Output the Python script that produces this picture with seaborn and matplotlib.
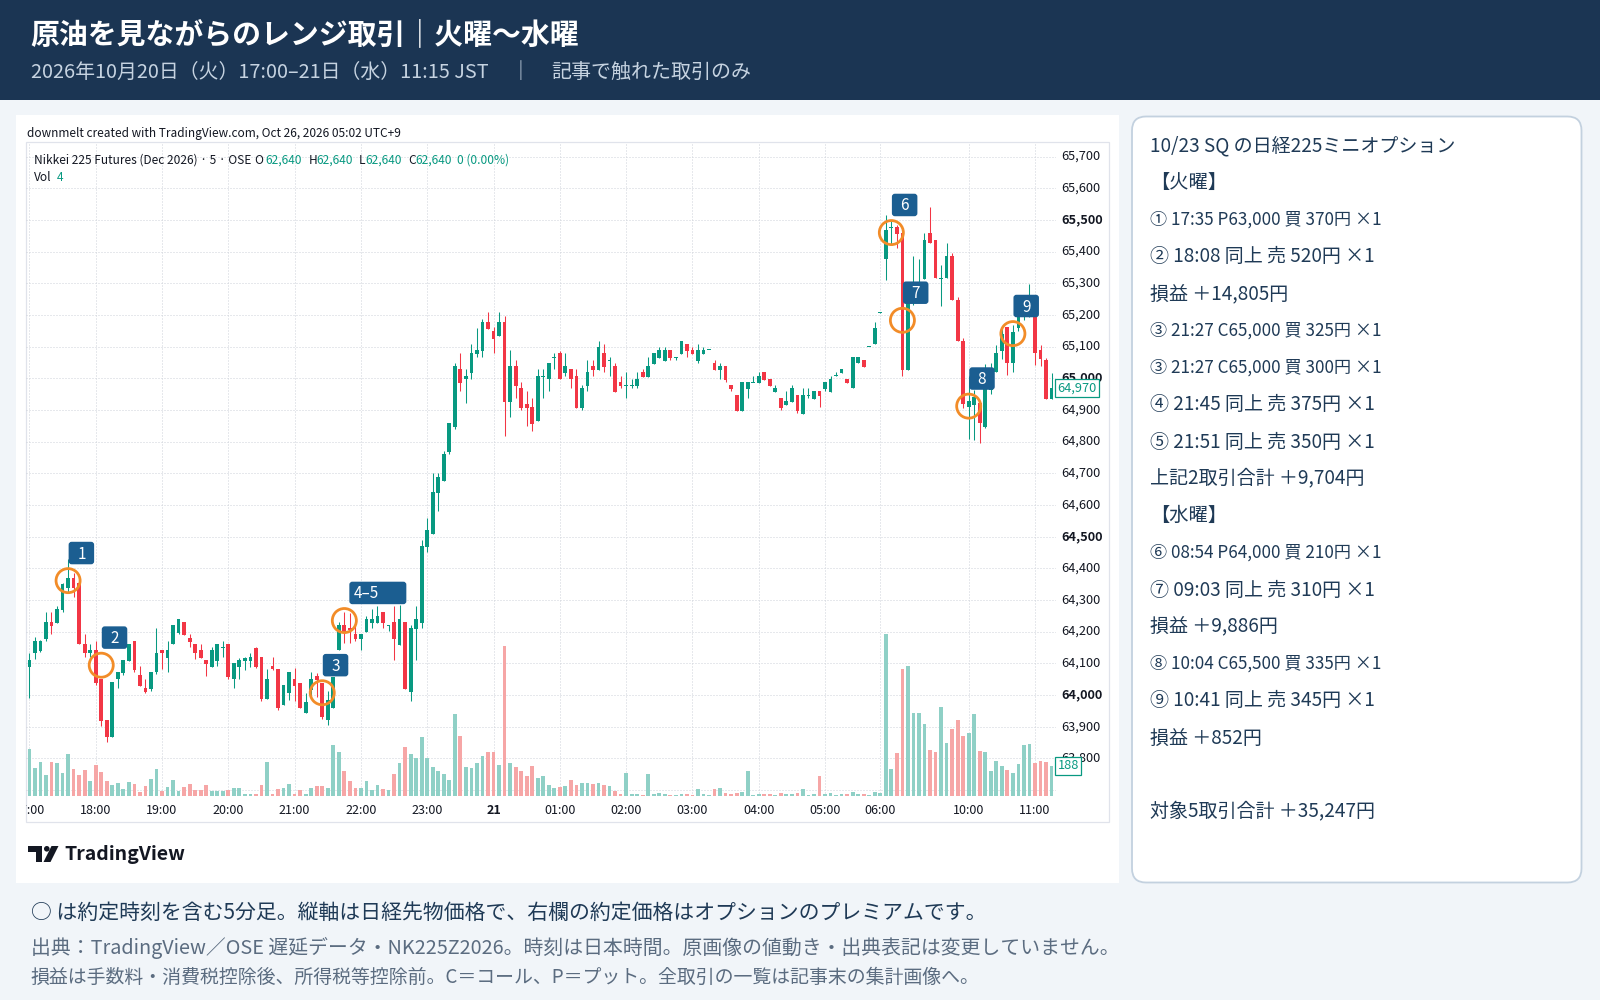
import numpy as np
import pandas as pd
import matplotlib
matplotlib.use("Agg")
import matplotlib.pyplot as plt
import matplotlib.transforms as mtransforms
from matplotlib.patches import Rectangle, FancyBboxPatch, Polygon, Circle
import seaborn as sns

# ---------------- data (5-minute bars, 17:00 Tue -> 11:15 Wed) ----------------
opens = [
    64089, 64131, 64140, 64177, 64230, 64228, 64268, 64339, 64368, 64352,
    64160, 64131, 64142, 64049, 63921, 63868, 64049, 64068, 64108, 64170,
    64062, 64023, 64020, 64072, 64142, 64117, 64160, 64197, 64229, 64181,
    64161, 64142, 64110, 64089, 64108, 64150, 64161, 64049, 64089, 64108,
    64108, 64149, 64121, 63986, 64091, 64081, 63968, 64007, 64049, 64039,
    63942, 64016, 64060, 64039, 63921, 63958, 64142, 64221, 64210, 64191,
    64177, 64200, 64228, 64228, 64263, 64218, 64231, 64158, 64230, 64010,
    64209, 64228, 64468, 64508, 64639, 64677, 64767, 64847, 65029, 64997,
    65018, 65077, 65087, 65178, 65148, 65135, 65178, 64925, 65039, 64969,
    64919, 64908, 64866, 65004, 64997, 65066, 65079, 65018, 65028, 65007,
    64906, 64976, 65039, 65026, 65081, 65057, 65039, 64988, 64977, 64978,
    64977, 65020, 65005, 65046, 65065, 65056, 65089, 65066, 65078, 65108,
    65089, 65056, 65078, 65089, 65049, 65026, 65039, 64979, 64947, 64898,
    64967, 64987, 64986, 65020, 64997, 64957, 64938, 64917, 64925, 64947,
    64887, 64946, 64936, 64960, 64967, 64957, 65007, 65017, 64997, 64970,
    65047, 65058, 65099, 65107, 65207, 65376, 65475, 65477, 65458, 65026,
    65237, 65280, 65312, 65460, 65437, 65315, 65316, 65386, 65247, 65118,
    64908, 64915, 64921, 64847, 64963, 65021, 65086, 65161, 65047, 65158,
    65194, 65215, 65218, 65089, 65058, 64934,
]
highs = [
    64131, 64182, 64175, 64262, 64262, 64281, 64352, 64428, 64384, 64352,
    64192, 64161, 64170, 64049, 63921, 64040, 64072, 64110, 64161, 64170,
    64091, 64051, 64072, 64212, 64142, 64171, 64221, 64240, 64229, 64193,
    64161, 64161, 64110, 64152, 64161, 64169, 64161, 64100, 64116, 64121,
    64131, 64152, 64121, 64081, 64121, 64081, 64031, 64071, 64084, 64039,
    64005, 64072, 64070, 64039, 64013, 64058, 64231, 64263, 64258, 64226,
    64191, 64249, 64270, 64281, 64263, 64220, 64281, 64284, 64230, 64221,
    64281, 64489, 64558, 64702, 64702, 64769, 64858, 65049, 65081, 65028,
    65108, 65158, 65188, 65209, 65161, 65209, 65197, 65089, 65058, 64988,
    64960, 64937, 65028, 65028, 65047, 65079, 65087, 65079, 65028, 65028,
    64980, 65058, 65058, 65117, 65108, 65068, 65049, 65007, 65021, 64997,
    65020, 65029, 65067, 65080, 65098, 65098, 65089, 65066, 65118, 65108,
    65098, 65108, 65098, 65090, 65058, 65049, 65039, 64979, 64947, 64988,
    64988, 65007, 65020, 65020, 64997, 64979, 64938, 64961, 64979, 64947,
    64969, 64969, 64960, 64960, 64988, 65007, 65020, 65029, 64997, 65067,
    65067, 65058, 65100, 65177, 65209, 65516, 65495, 65484, 65458, 65250,
    65386, 65376, 65460, 65540, 65437, 65358, 65428, 65397, 65256, 65126,
    65007, 64963, 64921, 65045, 65047, 65105, 65160, 65161, 65168, 65210,
    65255, 65297, 65218, 65106, 65065, 65018,
]
lows = [
    63992, 64112, 64135, 64171, 64194, 64226, 64263, 64321, 64310, 64160,
    64121, 64119, 64031, 63903, 63852, 63868, 64023, 64062, 64108, 64072,
    64029, 64005, 64013, 64066, 64082, 64073, 64160, 64192, 64189, 64152,
    64112, 64118, 64061, 64089, 64091, 64121, 64050, 64023, 64052, 64079,
    64089, 64084, 63981, 63986, 64079, 63952, 63968, 63983, 63980, 63960,
    63942, 63994, 63994, 63924, 63905, 63958, 64142, 64163, 64163, 64171,
    64142, 64200, 64213, 64228, 64212, 64203, 64110, 64158, 64020, 63982,
    64110, 64212, 64452, 64508, 64582, 64677, 64761, 64841, 64961, 64921,
    64999, 65068, 65068, 65157, 65081, 65135, 64819, 64879, 64939, 64900,
    64849, 64832, 64866, 64939, 64961, 65030, 64997, 65007, 64970, 64906,
    64900, 64961, 65007, 65026, 65021, 65007, 64958, 64969, 64939, 64969,
    64969, 65005, 65005, 65046, 65065, 65056, 65058, 65058, 65078, 65068,
    65078, 65049, 65078, 65089, 65026, 64997, 64988, 64960, 64898, 64898,
    64938, 64987, 64986, 64995, 64976, 64957, 64900, 64917, 64925, 64889,
    64887, 64938, 64936, 64908, 64960, 64957, 65007, 65017, 64985, 64970,
    65047, 65037, 65099, 65107, 65207, 65310, 65421, 65410, 65008, 65026,
    65230, 65279, 65312, 65426, 65316, 65229, 65316, 65247, 65118, 64905,
    64808, 64805, 64795, 64842, 64950, 65021, 65060, 65009, 65021, 65150,
    65185, 65195, 65042, 65039, 64934, 64934,
]
closes = [
    64110, 64171, 64171, 64230, 64218, 64272, 64350, 64368, 64339, 64160,
    64131, 64142, 64039, 63918, 63868, 64040, 64072, 64110, 64161, 64079,
    64029, 64009, 64072, 64132, 64131, 64142, 64221, 64240, 64189, 64168,
    64131, 64118, 64098, 64142, 64161, 64151, 64058, 64100, 64110, 64118,
    64121, 64089, 63986, 64049, 64081, 63960, 64031, 64071, 64029, 63960,
    63979, 64049, 64047, 63931, 63984, 64058, 64221, 64200, 64205, 64177,
    64191, 64239, 64240, 64249, 64228, 64218, 64177, 64239, 64020, 64212,
    64239, 64470, 64521, 64641, 64687, 64761, 64858, 65039, 64986, 65007,
    65081, 65089, 65178, 65157, 65125, 65178, 64925, 65039, 64976, 64906,
    64906, 64856, 65007, 65005, 65047, 65067, 64997, 65039, 64997, 64906,
    64969, 65020, 65026, 65098, 65037, 65057, 64958, 64976, 64978, 64979,
    64997, 65005, 65039, 65080, 65089, 65089, 65065, 65066, 65118, 65087,
    65078, 65089, 65089, 65090, 65026, 65039, 64995, 64967, 64898, 64988,
    64988, 64988, 65007, 64995, 64976, 64969, 64906, 64929, 64969, 64898,
    64947, 64947, 64960, 64944, 64988, 64997, 65008, 65029, 64985, 65067,
    65067, 65037, 65100, 65158, 65208, 65468, 65478, 65455, 65026, 65237,
    65270, 65300, 65437, 65426, 65316, 65317, 65386, 65247, 65118, 64919,
    64929, 64940, 64858, 65005, 64994, 65079, 65140, 65047, 65147, 65194,
    65240, 65230, 65079, 65062, 64934, 64970,
]
volumes = [
    293, 174, 211, 130, 211, 205, 143, 260, 167, 130,
    161, 93, 192, 149, 93, 68, 81, 43, 87, 74,
    25, 62, 105, 167, 31, 56, 99, 31, 56, 74,
    37, 37, 68, 31, 31, 31, 37, 50, 50, 15,
    12, 15, 68, 211, 15, 43, 50, 74, 10, 37,
    12, 50, 62, 62, 50, 316, 273, 155, 93, 50,
    50, 93, 37, 68, 43, 37, 136, 205, 304, 260,
    236, 366, 236, 180, 155, 136, 99, 508, 372, 180,
    174, 205, 248, 273, 273, 192, 930, 205, 180, 155,
    124, 186, 112, 124, 68, 50, 56, 62, 99, 68,
    81, 81, 74, 81, 68, 62, 31, 12, 143, 10,
    15, 8, 136, 10, 20, 12, 8, 6, 15, 10,
    8, 43, 12, 5, 43, 50, 18, 10, 20, 25,
    155, 8, 15, 12, 10, 8, 20, 12, 15, 18,
    43, 8, 12, 124, 10, 18, 8, 10, 12, 25,
    10, 12, 8, 25, 20, 1004, 167, 267, 787, 806,
    515, 515, 446, 285, 273, 552, 329, 415, 471, 372,
    391, 508, 279, 273, 155, 217, 186, 161, 143, 198,
    316, 322, 205, 217, 211, 188,
]

time_tick_bars = [0, 12, 24, 36, 48, 60, 72, 84, 96, 108, 120, 132, 144, 154, 170, 182]
time_tick_labels = ["17:00", "18:00", "19:00", "20:00", "21:00", "22:00", "23:00", "21",
                    "01:00", "02:00", "03:00", "04:00", "05:00", "06:00", "10:00", "11:00"]
price_ticks = list(range(63800, 65701, 100))
bold_price_ticks = [64000, 64500, 65000, 65500]

trade_bars = [7, 13, 53, 57, 156, 158, 170, 178]
trade_prices = [64361, 64094, 64007, 64235, 65460, 65183, 64912, 65141]
trade_labels = ["1", "2", "3", "4–5", "6", "7", "8", "9"]

last_price = 64970
last_volume = 188

title = "原油を見ながらのレンジ取引｜火曜〜水曜"
subtitle_left = "2026年10月20日（火）17:00–21日（水）11:15 JST"
subtitle_right = "記事で触れた取引のみ"

panel_lines = [
    ("10/23 SQ の日経225ミニオプション", "title"),
    ("【火曜】", "head"),
    ("① 17:35 P63,000 買 370円 ×1", "small"),
    ("② 18:08 同上 売 520円 ×1", "big"),
    ("損益 ＋14,805円", "big"),
    ("③ 21:27 C65,000 買 325円 ×1", "small"),
    ("③ 21:27 C65,000 買 300円 ×1", "small"),
    ("④ 21:45 同上 売 375円 ×1", "big"),
    ("⑤ 21:51 同上 売 350円 ×1", "big"),
    ("上記2取引合計 ＋9,704円", "big"),
    ("【水曜】", "head"),
    ("⑥ 08:54 P64,000 買 210円 ×1", "small"),
    ("⑦ 09:03 同上 売 310円 ×1", "big"),
    ("損益 ＋9,886円", "big"),
    ("⑧ 10:04 C65,500 買 335円 ×1", "small"),
    ("⑨ 10:41 同上 売 345円 ×1", "big"),
    ("損益 ＋852円", "big"),
    ("対象5取引合計 ＋35,247円", "big"),
]
panel_y = [146, 183, 220, 257, 294, 331, 368, 405, 442, 478, 515, 553, 590, 626, 664, 701, 738, 812]

footer_lines = [
    "○ は約定時刻を含む5分足。縦軸は日経先物価格で、右欄の約定価格はオプションのプレミアムです。",
    "出典：TradingView／OSE 遅延データ・NK225Z2026。時刻は日本時間。原画像の値動き・出典表記は変更していません。",
    "損益は手数料・消費税控除後、所得税等控除前。C＝コール、P＝プット。全取引の一覧は記事末の集計画像へ。",
]

# ---------------- style ----------------
sns.set_theme(style="white")
plt.rcParams["font.family"] = ["Noto Sans CJK JP", "DejaVu Sans"]
plt.rcParams["axes.unicode_minus"] = False

GREEN = "#089981"
RED = "#f23645"
VGREEN = "#8fd0c6"
VRED = "#f6a6a6"
ORANGE = "#f28c28"
BLUE = "#1b5e91"
NAVY = "#1b3553"
INK = "#131722"
PANEL_INK = "#1f3a56"

W, H = 1600, 1000
fig = plt.figure(figsize=(W / 100, H / 100), dpi=100)
fig.patch.set_facecolor("#f1f5f9")
PX = mtransforms.Affine2D().scale(1 / W, -1 / H).translate(0, 1) + fig.transFigure


def ftext(x, y, s, **kw):
    kw.setdefault("va", "center")
    kw.setdefault("ha", "left")
    return fig.text(x / W, 1 - y / H, s, **kw)


# backgrounds
fig.add_artist(Rectangle((0, 0), 1600, 100, transform=PX, fc=NAVY, ec="none", zorder=-10))
fig.add_artist(Rectangle((16, 115), 1103, 768, transform=PX, fc="white", ec="none", zorder=-10))
fig.add_artist(FancyBboxPatch((1132, 116.5), 449.5, 766, boxstyle="round,pad=0,rounding_size=14",
                              transform=PX, fc="white", ec="#c3d1df", lw=1.3, zorder=-10))
fig.add_artist(Rectangle((25.5, 142), 1083, 680, transform=PX, fc="none", ec="#e0e3eb",
                         lw=0.9, zorder=-9))

# header
ftext(30.6, 34, title, color="white", fontsize=20.8, fontweight="bold")
ftext(30.6, 72, subtitle_left, color="#c6d3e1", fontsize=14.3)
ftext(520, 72, "｜", color="#c6d3e1", fontsize=14.3, ha="center")
ftext(551, 72, subtitle_right, color="#c6d3e1", fontsize=14.4)

# ---------------- chart axes ----------------
n = len(opens)
df = pd.DataFrame({"bar": np.arange(n), "open": opens, "high": highs, "low": lows,
                   "close": closes, "volume": volumes})
df["up"] = df["close"] >= df["open"]
df["dir"] = np.where(df["up"], "up", "down")

ax_rect = [26 / W, 1 - 796 / H, 1030 / W, 654 / H]
ax_vol = fig.add_axes(ax_rect, zorder=1)
ax = fig.add_axes(ax_rect, zorder=2)
XLIM = (-0.615, 185.8)
YLIM = (63681, 65746)
VLIM = (0, 4055)

# volume (seaborn)
sns.barplot(data=df, x="bar", y="volume", hue="dir", palette={"up": VGREEN, "down": VRED},
            native_scale=True, dodge=False, width=0.68, errorbar=None, legend=False,
            saturation=1, linewidth=0, ax=ax_vol)

for a in (ax_vol, ax):
    a.set_xlim(*XLIM)
    a.patch.set_visible(False)
    a.set_axis_off()
ax.set_ylim(*YLIM)
ax_vol.set_ylim(*VLIM)

# grid (behind volume)
grid_kw = dict(color="#cfd3da", lw=0.72, ls=(0, (1, 2)), zorder=0)
price_grid_T = mtransforms.blended_transform_factory(ax_vol.transAxes, ax.transData)
for p in range(63700, 65701, 100):
    ax_vol.plot([0, 1], [p, p], transform=price_grid_T, **grid_kw)
for b in time_tick_bars:
    ax_vol.axvline(b, **grid_kw)

# candles
colors = np.where(df["up"], GREEN, RED)
wick_lo = np.minimum(df["low"], np.minimum(df["open"], df["close"]))
wick_hi = np.maximum(df["high"], np.maximum(df["open"], df["close"]))
ax.vlines(df["bar"], wick_lo, wick_hi, colors=colors, lw=0.75, zorder=3)
raw = (df["close"] - df["open"]).abs()
body = np.maximum(raw, 3.5)
bottom = np.minimum(df["open"], df["close"]) - (body - raw) / 2
ax.bar(df["bar"], body, bottom=bottom, width=0.68, color=colors, linewidth=0, zorder=4)

# trade markers
ax.scatter(trade_bars, trade_prices, s=300, facecolors="none", edgecolors=ORANGE,
           linewidths=2.0, zorder=6, clip_on=False)
for b, p, lab in zip(trade_bars, trade_prices, trade_labels):
    T = mtransforms.Affine2D().scale(1, -1) + mtransforms.ScaledTranslation(b, p, ax.transData)
    if len(lab) > 1:
        w, cx, tx = 57, 33.5, 22
    else:
        w, cx, tx = 25.5, 13.3, 13.3
    h, cy = 22.5, -27.6
    fig.add_artist(FancyBboxPatch((cx - w / 2, cy - h / 2), w, h,
                                  boxstyle="round,pad=0,rounding_size=3",
                                  transform=T, fc=BLUE, ec="none", zorder=5))
    fig.text(tx, cy + 1, lab, transform=T, color="white", fontsize=11, ha="center",
             va="center", zorder=6)

# price scale labels
pT = mtransforms.blended_transform_factory(ax.transAxes, ax.transData)
for p in price_ticks:
    ax.text(1 + 5.7 / 1030, p, f"{p:,}", transform=pT, fontsize=9.2, color=INK,
            fontweight="bold" if p in bold_price_ticks else "normal", va="center", ha="left")
ax.text(1 + 1.5 / 1030, last_price, f"{last_price:,}", transform=pT, fontsize=9.2,
        color=GREEN, va="center", ha="left", zorder=10,
        bbox=dict(boxstyle="square,pad=0.2", fc="white", ec=GREEN, lw=0.9))
vT = mtransforms.blended_transform_factory(ax.transAxes, ax_vol.transData)
ax.text(1 + 1.5 / 1030, last_volume, f"{last_volume}", transform=vT, fontsize=9.2,
        color=GREEN, va="center", ha="left", zorder=10,
        bbox=dict(boxstyle="square,pad=0.2", fc="white", ec=GREEN, lw=0.9))

# time labels
tT = mtransforms.blended_transform_factory(ax.transData, ax.transAxes)
clipbox = mtransforms.TransformedBbox(mtransforms.Bbox.from_extents(26 / W, 0, 1108 / W, 1),
                                      fig.transFigure)
for b, lab in zip(time_tick_bars, time_tick_labels):
    t = fig.text(b, -15 / 654, lab, transform=tT, fontsize=9.0, color=INK, ha="center",
                 va="center", fontweight="bold" if lab == "21" else "normal")
    t.set_clip_box(clipbox)
    t.set_clip_on(True)

# chart header texts
ftext(26.7, 133.5, "downmelt created with TradingView.com, Oct 26, 2026 05:02 UTC+9",
      fontsize=8.55, color=INK)
ftext(34.3, 160.5, "Nikkei 225 Futures (Dec 2026) · 5 · OSE", fontsize=8.6, color=INK)
for xs, s, c in [(254.0, "O", INK), (265.0, "62,640", GREEN), (308.3, "H", INK),
                 (316.2, "62,640", GREEN), (358.3, "L", INK), (365.0, "62,640", GREEN),
                 (408.3, "C", INK), (415.0, "62,640", GREEN), (456.7, "0 (0.00%)", GREEN)]:
    ftext(xs, 160.5, s, fontsize=8.6, color=c)
ftext(34.3, 177.5, "Vol", fontsize=8.6, color=INK)
ftext(57.3, 177.5, "4", fontsize=8.6, color=GREEN)

# TradingView logo
fig.add_artist(Polygon([(27.5, 846), (42, 846), (42, 862), (36, 862), (36, 851.5), (27.5, 851.5)],
                       closed=True, transform=PX, fc=INK, ec="none"))
fig.add_artist(Circle((46.8, 848.8), 2.8, transform=PX, fc=INK, ec="none"))
fig.add_artist(Polygon([(51.5, 846), (58.5, 846), (50.5, 862), (43.5, 862)], closed=True,
                       transform=PX, fc=INK, ec="none"))
ftext(64.5, 854.5, "TradingView", fontsize=14, fontweight="bold", color=INK)

# right panel
size_map = {"title": 13.7, "head": 13.9, "small": 12.3, "big": 13.7}
for (s, kind), y in zip(panel_lines, panel_y):
    ftext(1150, y, s, fontsize=size_map[kind], color=PANEL_INK)

# footer
ftext(30.6, 913, footer_lines[0], fontsize=15, color=PANEL_INK)
ftext(30.6, 948, footer_lines[1], fontsize=14.27, color="#5b6c80")
ftext(30.6, 977.5, footer_lines[2], fontsize=13.6, color="#5b6c80")

fig.savefig("out.png", dpi=100, facecolor=fig.get_facecolor())
